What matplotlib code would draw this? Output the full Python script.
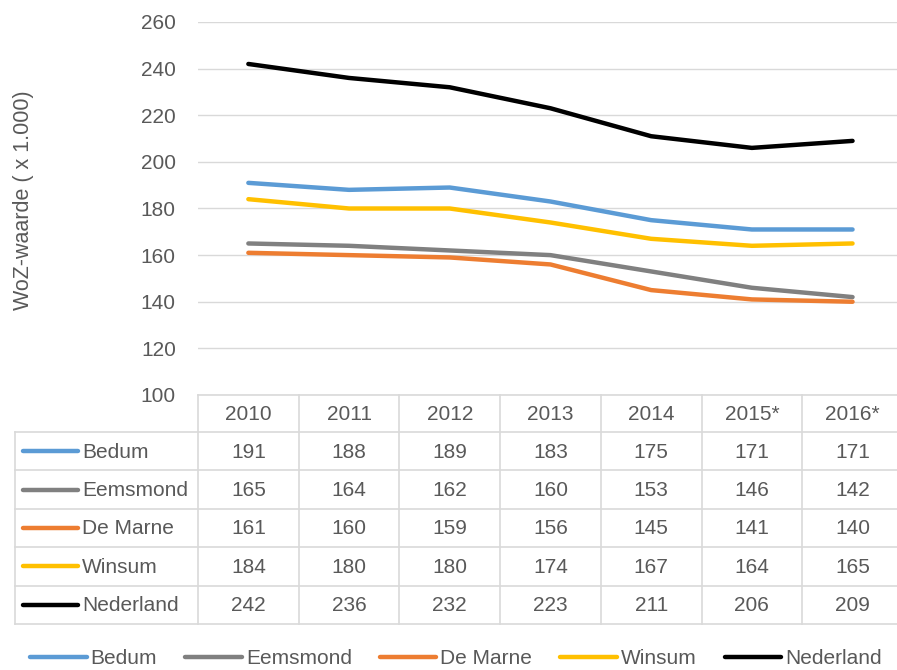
import numpy as np
import matplotlib
matplotlib.use("Agg")
import matplotlib.pyplot as plt

years = ["2010", "2011", "2012", "2013", "2014", "2015*", "2016*"]
names = ["Bedum", "Eemsmond", "De Marne", "Winsum", "Nederland"]
bedum = [191, 188, 189, 183, 175, 171, 171]
eemsmond = [165, 164, 162, 160, 153, 146, 142]
de_marne = [161, 160, 159, 156, 145, 141, 140]
winsum = [184, 180, 180, 174, 167, 164, 165]
nederland = [242, 236, 232, 223, 211, 206, 209]
series = [bedum, eemsmond, de_marne, winsum, nederland]
colors = ["#5B9BD5", "#808080", "#ED7D31", "#FFC000", "#000000"]

txt = "#595959"
grid = "#D9D9D9"
plt.rcParams['font.family'] = ['Liberation Sans', 'DejaVu Sans']
fs = 15

W, H = 897, 670
fig = plt.figure(figsize=(W / 100, H / 100), dpi=100)

# plot area in pixel terms
x0, colw = 198, 100.7
y_top, y_bot = 22, 395
ax = fig.add_axes([x0 / W, 1 - y_bot / H, colw * 7 / W, (y_bot - y_top) / H])
x = np.arange(len(years))
lines = []
for s, c, n in zip(series, colors, names):
    l, = ax.plot(x, s, color=c, lw=3.2, solid_capstyle='round', label=n)
    lines.append(l)
ax.set_xlim(-0.5, len(years) - 0.5)
ax.set_ylim(100, 260)
ax.set_yticks(np.arange(100, 261, 20))
ax.set_xticks([])
ax.grid(axis='y', color=grid, lw=1)
ax.set_axisbelow(True)
for sp in ax.spines.values():
    sp.set_visible(False)
ax.tick_params(axis='y', length=0, pad=16, labelsize=fs, labelcolor=txt)
fig.text(23 / W, 1 - 200 / H, "WoZ-waarde ( x 1.000)", rotation=90,
         ha='center', va='center', fontsize=15.5, color=txt)

# data table
tab = fig.add_axes([0, 0, 1, 1])
tab.set_xlim(0, W)
tab.set_ylim(H, 0)
tab.axis('off')
hdr_h, row_h = 37, 38.4
x_left = 15
col_edges = [x0 + i * colw for i in range(len(years) + 1)]
row_edges = [y_bot + hdr_h + i * row_h for i in range(len(names) + 1)]
kw = dict(color=grid, lw=1.2)
tab.plot([x0, col_edges[-1]], [y_bot, y_bot], **kw)
for ry in row_edges:
    tab.plot([x_left, col_edges[-1]], [ry, ry], **kw)
for cx in col_edges:
    tab.plot([cx, cx], [y_bot, row_edges[-1]], **kw)
tab.plot([x_left, x_left], [row_edges[0], row_edges[-1]], **kw)
for j, yr in enumerate(years):
    tab.text(x0 + (j + 0.5) * colw, y_bot + hdr_h / 2 + 1, yr, ha='center',
             va='center', fontsize=fs, color=txt)
for i, (n, s, c) in enumerate(zip(names, series, colors)):
    cy = row_edges[i] + row_h / 2
    tab.plot([23, 78], [cy, cy], color=c, lw=3.2, solid_capstyle='round')
    tab.text(82, cy + 1, n, ha='left', va='center', fontsize=fs, color=txt)
    for j, v in enumerate(s):
        tab.text(x0 + (j + 0.5) * colw, cy + 1, str(v), ha='center',
                 va='center', fontsize=fs, color=txt)

leg = fig.legend(handles=lines, loc='center', bbox_to_anchor=(456 / W, 1 - 659 / H),
                 ncol=5, frameon=False, fontsize=fs, handlelength=2.7,
                 handletextpad=0.2, columnspacing=1.35, labelcolor=txt)

fig.savefig("out.png", dpi=100)
